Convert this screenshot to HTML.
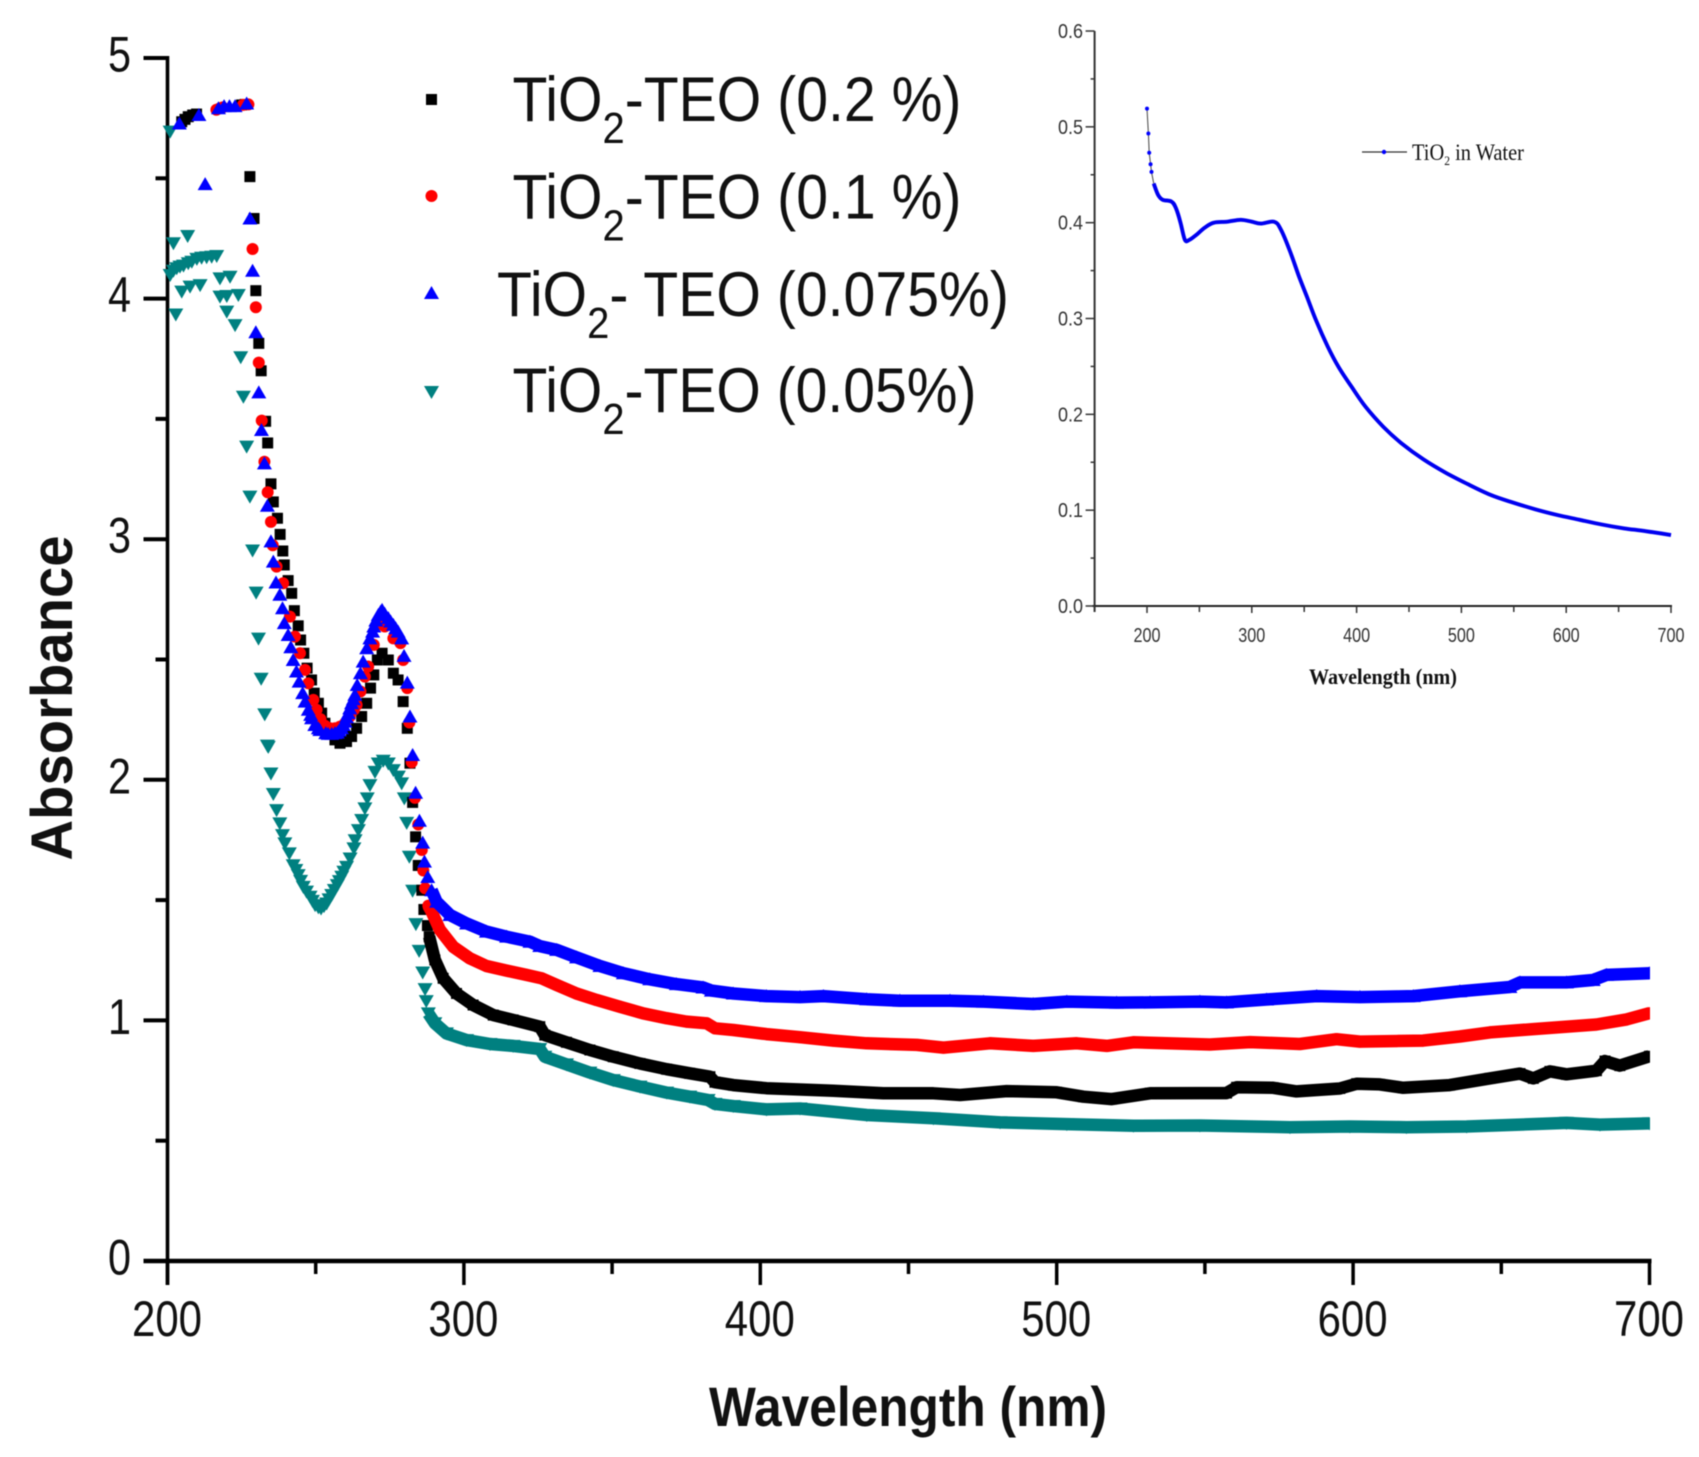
<!DOCTYPE html>
<html lang="en">
<head>
<meta charset="utf-8">
<title>Absorbance spectra of TiO2-TEO</title>
<style>
html,body{margin:0;padding:0;background:#fff;}
svg{display:block;filter:blur(0.55px);}
text{font-family:"Liberation Sans",sans-serif;fill:#111;}
.serif{font-family:"Liberation Serif",serif;}
</style>
</head>
<body>
<svg id="chart" xmlns="http://www.w3.org/2000/svg" width="1699" height="1457" viewBox="0 0 1699 1457">
  <defs><clipPath id="plotClip"><rect x="140" y="40" width="1510" height="1240"/></clipPath></defs>
  <rect x="0" y="0" width="1699" height="1457" fill="#fff"/>
  <g id="mainAxes"></g>
  <g id="mainMarks" clip-path="url(#plotClip)"></g>
  <g id="insetAxes"></g>
  <g id="insetMarks"></g>

  <text x="908" y="1426" text-anchor="middle" font-size="56" font-weight="700" textLength="398" lengthAdjust="spacingAndGlyphs">Wavelength (nm)</text>
  <text transform="translate(72,698) rotate(-90)" text-anchor="middle" font-size="58" font-weight="700" textLength="325" lengthAdjust="spacingAndGlyphs">Absorbance</text>

  <g>
    <rect x="426" y="94" width="11" height="11" fill="#000"/>
    <text x="512.500" y="121" font-size="63" textLength="449" lengthAdjust="spacingAndGlyphs">TiO<tspan dy="22" font-size="44">2</tspan><tspan dy="-22">-TEO (0.2 %)</tspan></text>
    <circle cx="431.500" cy="196" r="6" fill="#f00"/>
    <text x="512.500" y="218.500" font-size="63" textLength="449" lengthAdjust="spacingAndGlyphs">TiO<tspan dy="22" font-size="44">2</tspan><tspan dy="-22">-TEO (0.1 %)</tspan></text>
    <polygon points="431.500,286 439,299 424,299" fill="#00f"/>
    <text x="497" y="316" font-size="63" textLength="512" lengthAdjust="spacingAndGlyphs">TiO<tspan dy="22" font-size="44">2</tspan><tspan dy="-22">- TEO (0.075%)</tspan></text>
    <polygon points="424,386 439,386 431.500,399" fill="#008080"/>
    <text x="512.500" y="412" font-size="63" textLength="464" lengthAdjust="spacingAndGlyphs">TiO<tspan dy="22" font-size="44">2</tspan><tspan dy="-22">-TEO (0.05%)</tspan></text>
  </g>

  <text class="serif" x="1383" y="684" text-anchor="middle" font-size="22" font-weight="700" textLength="148" lengthAdjust="spacingAndGlyphs">Wavelength (nm)</text>
  <g>
    <line x1="1362" y1="152" x2="1407" y2="152" stroke="#333" stroke-width="1.2"/>
    <circle cx="1384" cy="152" r="2.200" fill="#00f"/>
    <text class="serif" x="1412" y="160" font-size="23" textLength="112" lengthAdjust="spacingAndGlyphs">TiO<tspan dy="5" font-size="13">2</tspan><tspan dy="-5"> in Water</tspan></text>
  </g>
</svg>
<script>
// ---- main chart data ----
const mainXTickLabels = ["200", "300", "400", "500", "600", "700"];
const mainXTickValues = [200, 300, 400, 500, 600, 700];
const mainXMinorValues = [250, 350, 450, 550, 650];
const mainYTickLabels = ["0", "1", "2", "3", "4", "5"];
const mainYTickValues = [0, 1, 2, 3, 4, 5];
const mainYMinorValues = [0.5, 1.5, 2.5, 3.5, 4.5];

const blackWavelength = [204.8,205.9,207,208.5,209.8,225,226.2,227.8,229.2,229.8,230.8,231.6,233.1,233.8,234.9,235.7,237.1,238,238.9,239.4,240.7,241.9,242.8,244.1,244.9,246,247.1,248.6,249.5,250.9,252,253.1,254.8,256.5,258.2,260.4,262.1,263.8,265.5,267.2,268.5,269.6,270.8,272.4,274.5,276.2,277.8,279.5,280.9,281.8,282.7,283.7,284.6,285.8,286.5,287.7,288.3,290.2,293,297.5,303.1,309.9,316.6,325.6,327.3,334.6,342.5,350.4,359.4,368.4,376.2,383,384.7,390.9,402.1,413.4,424.6,441.5,458.4,467.4,483.1,500,509,518.6,531.5,548.3,557.3,560.7,573,580.9,595.5,601.2,609,616.9,632.6,646.1,656.3,660.8,666.4,672,682.1,685,690,700];
const blackAbsorbance = [4.735,4.745,4.756,4.763,4.767,4.805,4.807,4.507,4.333,4.033,3.814,3.7,3.49,3.4,3.23,3.155,3.087,3.02,2.951,2.893,2.828,2.775,2.703,2.64,2.581,2.526,2.464,2.415,2.36,2.318,2.277,2.235,2.194,2.166,2.152,2.159,2.18,2.214,2.263,2.318,2.381,2.436,2.498,2.526,2.498,2.443,2.415,2.325,2.214,2.069,1.906,1.763,1.644,1.541,1.461,1.394,1.348,1.251,1.175,1.112,1.064,1.022,1.002,0.974,0.939,0.909,0.877,0.849,0.821,0.797,0.78,0.766,0.743,0.731,0.718,0.713,0.708,0.697,0.697,0.69,0.706,0.701,0.683,0.673,0.697,0.698,0.698,0.722,0.72,0.705,0.717,0.737,0.734,0.72,0.731,0.759,0.779,0.759,0.788,0.776,0.791,0.831,0.812,0.851];

const redWavelength = [216.5,217.7,218.6,225.5,227.3,228.7,229.8,230.8,231.8,232.7,233.8,234.9,235.5,236.8,239,241.3,243,244.7,246.4,247.5,249.2,250.3,251.6,253.1,254.8,256.5,258.2,259.9,261.5,262.9,263.8,265.1,266.6,267.7,269.6,271.7,273.3,276.2,278.6,279.5,280.9,281.6,282.4,283.5,284.6,285.8,286.3,286.9,288,289.1,291.9,296.4,302,307.6,314.4,321.1,326.2,331.3,338,344.7,352.6,360.5,368.4,375.1,381.9,384.7,390.9,402.1,413.4,424.6,435.9,452.8,461.8,477.5,492.1,506.7,516.9,525.9,537.1,551.7,565.2,582,594.4,602.3,623.6,636,646.2,660.8,682.1,692.3,700];
const redAbsorbance = [4.785,4.791,4.795,4.805,4.807,4.206,3.964,3.734,3.493,3.322,3.195,3.072,2.975,2.886,2.817,2.678,2.595,2.526,2.457,2.401,2.332,2.291,2.252,2.225,2.214,2.214,2.221,2.235,2.263,2.291,2.311,2.367,2.429,2.471,2.561,2.651,2.637,2.588,2.568,2.498,2.381,2.238,2.073,1.925,1.814,1.708,1.623,1.549,1.477,1.452,1.376,1.306,1.258,1.226,1.207,1.189,1.175,1.147,1.112,1.085,1.057,1.029,1.009,0.995,0.988,0.967,0.96,0.943,0.93,0.916,0.905,0.898,0.887,0.905,0.894,0.905,0.894,0.909,0.905,0.9,0.91,0.902,0.922,0.912,0.916,0.933,0.95,0.964,0.983,1.004,1.03];

const blueWavelength = [204,210.6,212.7,217.2,219.1,220.9,222.8,226.7,227.8,228.7,229.8,230.8,231.7,232.7,233.7,234.9,235.7,236.6,237.9,238.8,239.4,240.7,241.6,242.4,243.5,244.4,245.6,246.4,247.5,248.3,248.6,249.7,250.9,251.4,253.4,254.2,255.4,256.5,257.3,257.9,258.7,259.3,259.9,260.4,261,261.5,262.1,262.7,263.2,264,265.1,266,267.2,268.3,269.2,269.6,270.3,271.1,271.9,272.4,273.3,274.5,275.3,276.2,277,277.8,279,279.8,280.9,281.8,282.7,283.7,285,286.1,286.7,287.8,289.1,290.8,295.3,300.9,307.6,314.4,322.3,325.6,331.3,338,345.9,353.8,362.7,371.7,380.7,383.5,390.9,402.1,413.4,421.3,435.9,447.1,464,475.3,492.1,503.4,520.2,531.5,548.3,557.3,570.8,587.7,602.3,620.3,636,652.9,656.3,672,681,685.5,700];
const blueAbsorbance = [4.728,4.763,4.476,4.791,4.8,4.8,4.8,4.811,4.333,4.116,3.86,3.61,3.454,3.315,3.139,2.991,2.907,2.82,2.769,2.713,2.651,2.602,2.551,2.498,2.45,2.408,2.36,2.325,2.291,2.27,2.256,2.228,2.214,2.207,2.194,2.191,2.191,2.194,2.196,2.205,2.214,2.228,2.242,2.26,2.277,2.297,2.318,2.335,2.353,2.394,2.443,2.491,2.547,2.588,2.616,2.637,2.662,2.685,2.699,2.706,2.69,2.672,2.658,2.644,2.63,2.616,2.588,2.515,2.404,2.263,2.103,1.946,1.83,1.739,1.66,1.596,1.541,1.493,1.438,1.403,1.369,1.348,1.327,1.309,1.293,1.262,1.226,1.196,1.171,1.151,1.137,1.124,1.112,1.101,1.097,1.101,1.088,1.082,1.082,1.078,1.068,1.078,1.074,1.075,1.078,1.075,1.087,1.101,1.097,1.101,1.121,1.139,1.158,1.158,1.168,1.189,1.196];

const tealWavelength = [200.9,202,206.8,202.8,200.9,202,203.1,204.2,205.4,207,208.2,209.9,211.5,213.2,214.9,216.6,204.8,207.6,211,217.7,221.1,217.7,220,223.9,220,222.8,224.7,225.6,226.7,227.8,228.7,229.9,230.7,231.6,232.8,233.7,234,234.9,235.7,236.8,237.9,238.8,239.6,241.1,242.4,243.3,244.1,244.9,245.8,246.9,248.1,248.9,249.8,250.9,251.8,252.8,253.7,254.5,255.4,256.3,257.3,258,258.8,259.5,260.4,261.6,262.9,263.3,264.4,265.5,266.6,267.4,268.3,270,271.1,272.8,274.5,276.2,277.9,279,279.9,280.7,281.6,282.7,283.8,284.9,286.1,286.9,287.3,288,290.2,294.1,300.9,308.8,316.6,325.6,327.3,334.6,342.5,350.4,359.4,368.4,376.2,382.4,384.7,390.9,402.1,413.4,435.9,458.4,480.9,503.4,525.9,548.3,578.7,598.9,618,638.3,672,683.3,700];
const tealAbsorbance = [4.694,4.23,4.26,3.934,4.098,4.116,4.126,4.133,4.137,4.147,4.153,4.165,4.17,4.172,4.174,4.177,4.029,4.05,4.056,4.084,4.091,4.008,4.011,4.015,3.946,3.89,3.756,3.592,3.385,3.177,2.953,2.778,2.587,2.42,2.272,2.142,2.137,2.026,1.941,1.874,1.819,1.77,1.736,1.694,1.645,1.625,1.604,1.58,1.555,1.535,1.514,1.497,1.479,1.47,1.465,1.475,1.486,1.503,1.521,1.542,1.562,1.579,1.597,1.618,1.638,1.673,1.715,1.749,1.791,1.833,1.881,1.923,1.978,2.033,2.068,2.079,2.068,2.04,2.013,1.985,1.923,1.821,1.68,1.539,1.4,1.289,1.199,1.13,1.08,1.029,0.988,0.946,0.918,0.902,0.894,0.881,0.849,0.817,0.783,0.752,0.725,0.7,0.683,0.669,0.653,0.644,0.63,0.634,0.607,0.593,0.576,0.569,0.562,0.563,0.556,0.559,0.556,0.559,0.574,0.567,0.572];

// ---- inset chart data ----
const insetXTickLabels = ["200", "300", "400", "500", "600", "700"];
const insetXTickValues = [200, 300, 400, 500, 600, 700];
const insetXMinorValues = [150, 250, 350, 450, 550, 650];
const insetYTickLabels = ["0.0", "0.1", "0.2", "0.3", "0.4", "0.5", "0.6"];
const insetYTickValues = [0, 0.1, 0.2, 0.3, 0.4, 0.5, 0.6];
const insetYMinorValues = [0.05, 0.15, 0.25, 0.35, 0.45, 0.55];
const insetWavelength = [200,201.3,202.1,203.4,204.3,206.4,210.6,214.9,223.4,227.7,232,236.2,240.4,246.8,255.3,263.8,276.6,289.4,300,308.5,321.3,327.7,336.2,344.7,353.2,361.7,372.3,383,395.7,408.5,425.5,442.6,463.8,485.1,506.4,527.7,549,570.2,591.5,612.8,634,655.3,676.6,700];
const insetAbsorbance = [0.519,0.493,0.473,0.461,0.453,0.441,0.429,0.424,0.422,0.415,0.4,0.382,0.382,0.387,0.395,0.4,0.401,0.403,0.401,0.399,0.401,0.393,0.371,0.345,0.321,0.297,0.271,0.249,0.228,0.208,0.187,0.17,0.153,0.139,0.127,0.116,0.108,0.101,0.095,0.09,0.085,0.081,0.078,0.074];

const NS = "http://www.w3.org/2000/svg";
const mainAxes = document.getElementById("mainAxes");
const mainMarks = document.getElementById("mainMarks");
const insetAxes = document.getElementById("insetAxes");
const insetMarks = document.getElementById("insetMarks");

function mainX(w) { return 167.5 + (w - 200) * 2.964; }
function mainY(a) { return 1261 - a * 240.6; }
function insetX(w) { return 1147 + (w - 200) * 1.048; }
function insetY(a) { return 606 - a * 958.3; }

function make(tag, attrs, parent) {
  const el = document.createElementNS(NS, tag);
  for (const k in attrs) el.setAttribute(k, attrs[k]);
  parent.appendChild(el);
  return el;
}

// main axes
const mainYLine = make("line", {x1: mainX(200), y1: mainY(5) - 2, x2: mainX(200), y2: mainY(0) + 24, stroke: "#000", "stroke-width": 3.6}, mainAxes);


const mainXLine = make("line", {x1: mainX(200) - 24, y1: mainY(0), x2: mainX(700) + 2, y2: mainY(0), stroke: "#000", "stroke-width": 4.5}, mainAxes);



mainXTickValues.forEach(function (v, i) {
  const t = make("line", {x1: mainX(v), y1: mainY(0), x2: mainX(v), y2: mainY(0) + 24, stroke: "#000", "stroke-width": 3.5}, mainAxes);
  
  
  const l = make("text", {x: mainX(v) - 0.5, y: 1336, "text-anchor": "middle", "font-size": 50, textLength: 70, lengthAdjust: "spacingAndGlyphs"}, mainAxes);
  
  
  l.textContent = mainXTickLabels[i];
});
mainXMinorValues.forEach(function (v) {
  const t = make("line", {x1: mainX(v), y1: mainY(0), x2: mainX(v), y2: mainY(0) + 13, stroke: "#000", "stroke-width": 3.5}, mainAxes);
  
  
});
mainYTickValues.forEach(function (v, i) {
  const t = make("line", {x1: mainX(200) - 24, y1: mainY(v), x2: mainX(200), y2: mainY(v), stroke: "#000", "stroke-width": 4}, mainAxes);
  
  
  const l = make("text", {x: 131, y: mainY(v) + 13.500, "text-anchor": "end", "font-size": 50, textLength: 23, lengthAdjust: "spacingAndGlyphs"}, mainAxes);
  
  
  l.textContent = mainYTickLabels[i];
});
mainYMinorValues.forEach(function (v) {
  const t = make("line", {x1: mainX(200) - 12, y1: mainY(v), x2: mainX(200), y2: mainY(v), stroke: "#000", "stroke-width": 4}, mainAxes);
  
  
});

// main series: sparse markers plus a thick trace where the markers merge
const denseFrom = 288;
function drawSeries(wl, ab, color, shape, seriesName) {
  const g = make("g", {}, mainMarks);
  
  
  const pts = [];
  wl.forEach(function (w, i) {
    if (w >= denseFrom) pts.push(mainX(w).toFixed(1) + "," + mainY(ab[i]).toFixed(1));
  });
  const trace = make("polyline", {points: pts.join(" "), fill: "none", stroke: color, "stroke-width": 12.5, "stroke-linejoin": "round"}, g);
  
  
  wl.forEach(function (w, i) {
    const x = mainX(w), y = mainY(ab[i]);
    let m;
    if (shape === "square") {
      m = make("rect", {x: x - 5.5, y: y - 5.5, width: 11, height: 11, fill: color}, g);
    } else if (shape === "circle") {
      m = make("circle", {cx: x, cy: y, r: 6, fill: color}, g);
    } else if (shape === "up") {
      m = make("polygon", {points: x + "," + (y - 7) + " " + (x + 7.5) + "," + (y + 6) + " " + (x - 7.5) + "," + (y + 6), fill: color}, g);
    } else {
      m = make("polygon", {points: (x - 7.5) + "," + (y - 6) + " " + (x + 7.5) + "," + (y - 6) + " " + x + "," + (y + 7), fill: color}, g);
    }
    
    
  });
}
drawSeries(tealWavelength, tealAbsorbance, "#008080", "down", "series-0-05");
drawSeries(blackWavelength, blackAbsorbance, "#000000", "square", "series-0-2");
drawSeries(redWavelength, redAbsorbance, "#ff0000", "circle", "series-0-1");
drawSeries(blueWavelength, blueAbsorbance, "#0000ff", "up", "series-0-075");

// inset axes
const insetYLine = make("line", {x1: insetX(150), y1: insetY(0.6), x2: insetX(150), y2: insetY(0) + 6, stroke: "#333", "stroke-width": 2}, insetAxes);


const insetXLine = make("line", {x1: insetX(150) - 2, y1: insetY(0), x2: insetX(700) + 1, y2: insetY(0), stroke: "#222", "stroke-width": 2}, insetAxes);



insetXTickValues.forEach(function (v, i) {
  const t = make("line", {x1: insetX(v), y1: insetY(0), x2: insetX(v), y2: insetY(0) + 7, stroke: "#333", "stroke-width": 1.5}, insetAxes);
  
  
  const l = make("text", {x: insetX(v), y: 642, "text-anchor": "middle", "font-size": 20, textLength: 27, lengthAdjust: "spacingAndGlyphs", style: "fill:#333"}, insetAxes);
  
  
  l.textContent = insetXTickLabels[i];
});
insetXMinorValues.forEach(function (v) {
  const t = make("line", {x1: insetX(v), y1: insetY(0), x2: insetX(v), y2: insetY(0) + 6, stroke: "#333", "stroke-width": 1.5}, insetAxes);
  
  
});
insetYTickValues.forEach(function (v, i) {
  const t = make("line", {x1: insetX(150) - 9, y1: insetY(v), x2: insetX(150), y2: insetY(v), stroke: "#333", "stroke-width": 1.5}, insetAxes);
  
  
  const l = make("text", {x: 1083, y: insetY(v) + 7, "text-anchor": "end", "font-size": 20, textLength: 25, lengthAdjust: "spacingAndGlyphs", style: "fill:#333"}, insetAxes);
  
  
  l.textContent = insetYTickLabels[i];
});
insetYMinorValues.forEach(function (v) {
  const t = make("line", {x1: insetX(150) - 4, y1: insetY(v), x2: insetX(150), y2: insetY(v), stroke: "#333", "stroke-width": 1.5}, insetAxes);
  
  
});

// inset series: thin connector with dots at the start, smooth thick curve afterwards
const insetDenseFrom = 205;
const thinPts = [];
const thickPts = [];
insetWavelength.forEach(function (w, i) {
  const px = insetX(w), py = insetY(insetAbsorbance[i]);
  if (w < insetDenseFrom + 2) thinPts.push(px.toFixed(1) + "," + py.toFixed(1));
  if (w >= insetDenseFrom) thickPts.push([px, py]);
});
const thinLine = make("polyline", {points: thinPts.join(" "), fill: "none", stroke: "#444", "stroke-width": 1}, insetMarks);


insetWavelength.forEach(function (w, i) {
  if (w < insetDenseFrom) {
    const dot = make("circle", {cx: insetX(w), cy: insetY(insetAbsorbance[i]), r: 2, fill: "#00f"}, insetMarks);
    
    
  }
});
function smoothPath(p) {
  let d = "M" + p[0][0].toFixed(1) + " " + p[0][1].toFixed(1);
  for (let i = 0; i < p.length - 1; i++) {
    const a = p[Math.max(i - 1, 0)], b = p[i], c = p[i + 1], e = p[Math.min(i + 2, p.length - 1)];
    const c1x = b[0] + (c[0] - a[0]) / 6, c1y = b[1] + (c[1] - a[1]) / 6;
    const c2x = c[0] - (e[0] - b[0]) / 6, c2y = c[1] - (e[1] - b[1]) / 6;
    d += "C" + c1x.toFixed(1) + " " + c1y.toFixed(1) + " " + c2x.toFixed(1) + " " + c2y.toFixed(1) + " " + c[0].toFixed(1) + " " + c[1].toFixed(1);
  }
  return d;
}
const thickLine = make("path", {d: smoothPath(thickPts), fill: "none", stroke: "#0000f0", "stroke-width": 3.9, "stroke-linejoin": "round"}, insetMarks);


</script>
</body>
</html>
